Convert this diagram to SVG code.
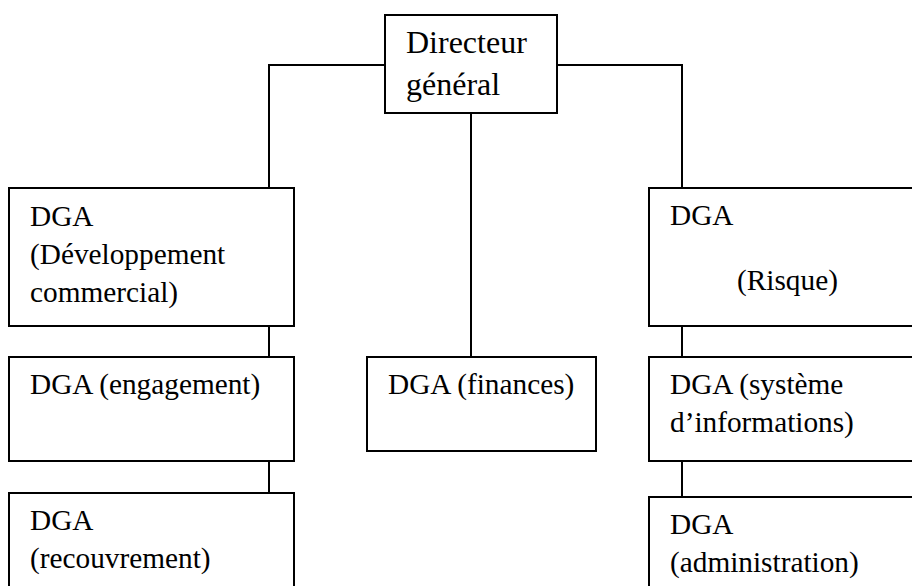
<svg xmlns="http://www.w3.org/2000/svg" width="912" height="586" viewBox="0 0 912 586">
<style>
.box{fill:#fff;stroke:#000;stroke-width:2}
.ln{fill:none;stroke:#000;stroke-width:2}
text{font-family:"Liberation Serif","Times New Roman",serif;font-size:29.3px;fill:#000}
.big{font-size:32px}
</style>
<rect width="912" height="586" fill="#fff"/>
<g id="connectors">
<path class="ln" d="M385,65 H269 V188"/>
<path class="ln" d="M557,65 H682 V188"/>
<path class="ln" d="M471,113 V357"/>
<path class="ln" d="M269,326 V357"/>
<path class="ln" d="M269,461 V493"/>
<path class="ln" d="M682,326 V357"/>
<path class="ln" d="M682,461 V497"/>
</g>
<g id="dg">
<rect class="box" x="385" y="15" width="172" height="98"/>
<text class="big" x="406" y="53">Directeur</text>
<text class="big" x="406" y="95">général</text>
</g>
<g id="dga-dev">
<rect class="box" x="9" y="188" width="285" height="138"/>
<text x="30" y="226">DGA</text>
<text x="30" y="264">(Développement</text>
<text x="30" y="302">commercial)</text>
</g>
<g id="dga-engagement">
<rect class="box" x="9" y="357" width="285" height="104"/>
<text x="30" y="394">DGA (engagement)</text>
</g>
<g id="dga-recouvrement">
<rect class="box" x="9" y="493" width="285" height="110"/>
<text x="30" y="530">DGA</text>
<text x="30" y="568">(recouvrement)</text>
</g>
<g id="dga-finances">
<rect class="box" x="367" y="357" width="229" height="94"/>
<text x="388" y="394">DGA (finances)</text>
</g>
<g id="dga-risque">
<rect class="box" x="649" y="188" width="275" height="138"/>
<text x="670" y="225">DGA</text>
<text x="737" y="290">(Risque)</text>
</g>
<g id="dga-si">
<rect class="box" x="649" y="357" width="275" height="104"/>
<text x="670" y="394">DGA (système</text>
<text x="670" y="432">d’informations)</text>
</g>
<g id="dga-admin">
<rect class="box" x="649" y="497" width="275" height="110"/>
<text x="670" y="534">DGA</text>
<text x="670" y="572">(administration)</text>
</g>
</svg>
